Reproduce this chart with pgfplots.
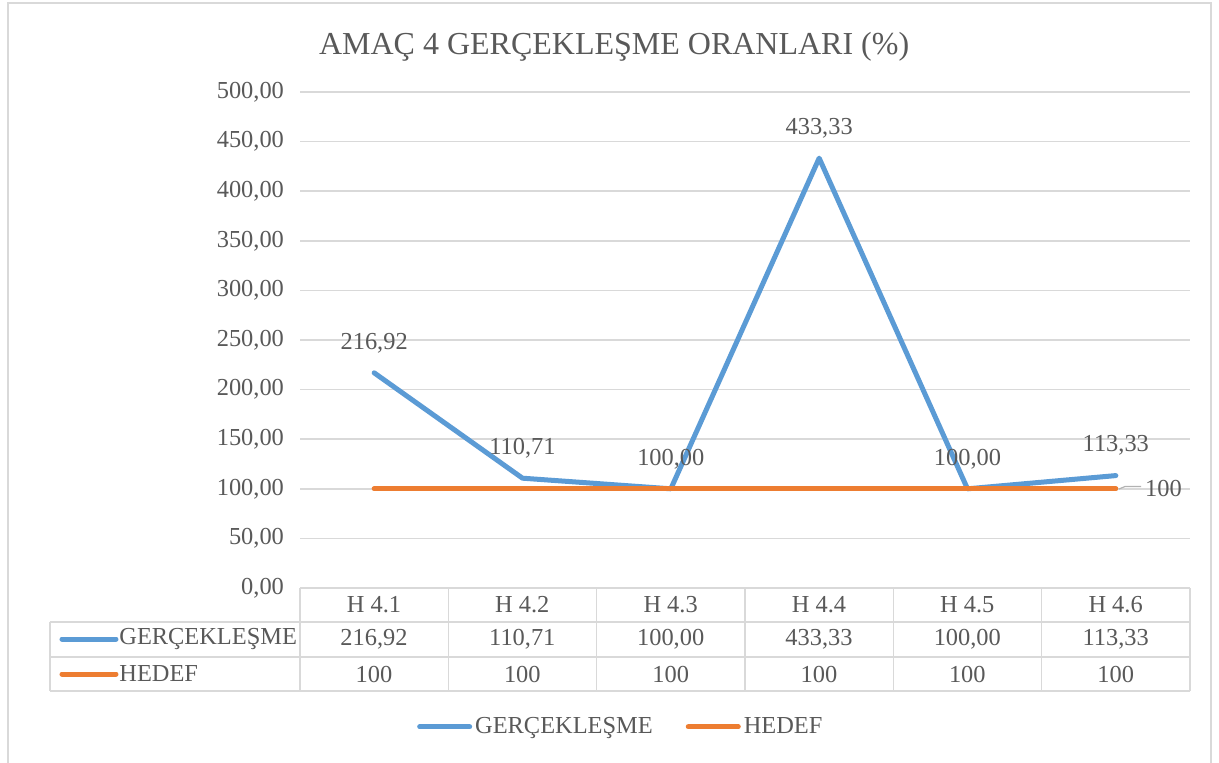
\documentclass[border=0pt]{standalone}
\usepackage{pgfplots}
\pgfplotsset{compat=1.18}
\usepackage{fontspec}
\setmainfont{Liberation Serif}
\definecolor{cblue}{HTML}{5B9BD5}
\definecolor{corange}{HTML}{ED7D31}
\definecolor{ctext}{HTML}{595959}
\definecolor{cgrid}{HTML}{D9D9D9}
\newcommand{\lf}{\fontsize{12.2}{14}\selectfont}
\begin{document}
\begin{tikzpicture}
% pixel frame: (X,Y) px -> ((X-300)*0.5pt, (588-Y)*0.5pt)
\begin{scope}[shift={(-150pt,294pt)}, x=0.5pt, y=-0.5pt]
  \path[use as bounding box, fill=white] (0,0) rectangle (1219,762);
  \draw[cgrid, line width=1pt] (8,800) -- (8,3) -- (1211,3) -- (1211,800);
\end{scope}
\begin{axis}[
  at={(0,0)}, anchor=south west,
  scale only axis, width=445pt, height=248pt,
  xmin=-0.5, xmax=5.5, ymin=0, ymax=500,
  ytick={0,50,...,500}, xtick=\empty,
  axis line style={draw=none},
  ymajorgrids, grid style={cgrid, line width=0.75pt},
  major tick length=0pt,
  clip=false,
  tick label style={font=\lf, text=ctext},
  yticklabel style={anchor=east, xshift=-4.5pt},
  /pgf/number format/.cd, fixed, fixed zerofill, precision=2, use comma, assume math mode=true,
  /pgfplots/.cd,
  title={AMAÇ 4 GERÇEKLEŞME ORANLARI (\%)},
  title style={at={(0.353,1.067)}, anchor=center, font=\fontsize{16}{19}\selectfont, text=ctext},
  legend style={at={(0.361,-0.28)}, anchor=center, draw=none, fill=none, legend columns=2,
    font=\lf, text=ctext, inner sep=0pt,
    /tikz/every even column/.append style={column sep=15pt},
    /tikz/every odd column/.append style={column sep=0pt},
    nodes={inner xsep=1.5pt}},
  legend image code/.code={\draw[#1, line width=2.5pt, line cap=round] (0pt,0pt) -- (25pt,0pt);},
]
\addplot[cblue, line width=2.5pt, line cap=round, line join=round,
  nodes near coords={\pgfmathprintnumber[fixed,fixed zerofill,precision=2,use comma,assume math mode=true]{\pgfplotspointmeta}},
  every node near coord/.append style={anchor=center, yshift=15pt, font=\lf, text=ctext}]
  coordinates {(0,216.92) (1,110.71) (2,100.00) (3,433.33) (4,100.00) (5,113.33)};
\addlegendentry{GERÇEKLEŞME}
\addplot[corange, line width=2.5pt, line cap=round]
  coordinates {(0,100) (1,100) (2,100) (3,100) (4,100) (5,100)};
\addlegendentry{HEDEF}
\node[anchor=west, font=\lf, text=ctext, inner sep=0pt] at (axis cs:5,100) [xshift=14.5pt] {100};
\end{axis}
\begin{scope}[shift={(-150pt,294pt)}, x=0.5pt, y=-0.5pt]
  \draw[gray!60, line width=0.6pt] (1119,489) -- (1125,486.5) -- (1141,486.5);
  % data table
  \draw[cgrid, line width=0.75pt] (300,588) -- (1190,588);
  \draw[cgrid, line width=0.75pt] (50,622) -- (1190,622);
  \draw[cgrid, line width=0.75pt] (50,657) -- (1190,657);
  \draw[cgrid, line width=0.75pt] (50,691) -- (1190,691);
  \draw[cgrid, line width=0.75pt] (50,622) -- (50,691);
  \foreach \i in {0,...,6} {
    \draw[cgrid, line width=0.75pt] ({300+\i*148.33},588) -- ({300+\i*148.33},691);
  }
  \foreach \lab [count=\i from 0] in {H 4.1,H 4.2,H 4.3,H 4.4,H 4.5,H 4.6} {
    \node[font=\lf, text=ctext] at ({374+\i*148.33},605) {\lab};
  }
  \foreach \v [count=\i from 0] in {216{,}92,110{,}71,100{,}00,433{,}33,100{,}00,113{,}33} {
    \node[font=\lf, text=ctext] at ({374+\i*148.33},639) {\v};
  }
  \foreach \v [count=\i from 0] in {100,100,100,100,100,100} {
    \node[font=\lf, text=ctext] at ({374+\i*148.33},674) {\v};
  }
  \draw[cblue, line width=2.5pt, line cap=round] (62,639) -- (116,639);
  \node[anchor=west, inner sep=0pt, font=\lf, text=ctext] at (119,639) {GERÇEKLEŞME};
  \draw[corange, line width=2.5pt, line cap=round] (62,674) -- (116,674);
  \node[anchor=west, inner sep=0pt, font=\lf, text=ctext] at (119,674) {HEDEF};
\end{scope}
\end{tikzpicture}
\end{document}
